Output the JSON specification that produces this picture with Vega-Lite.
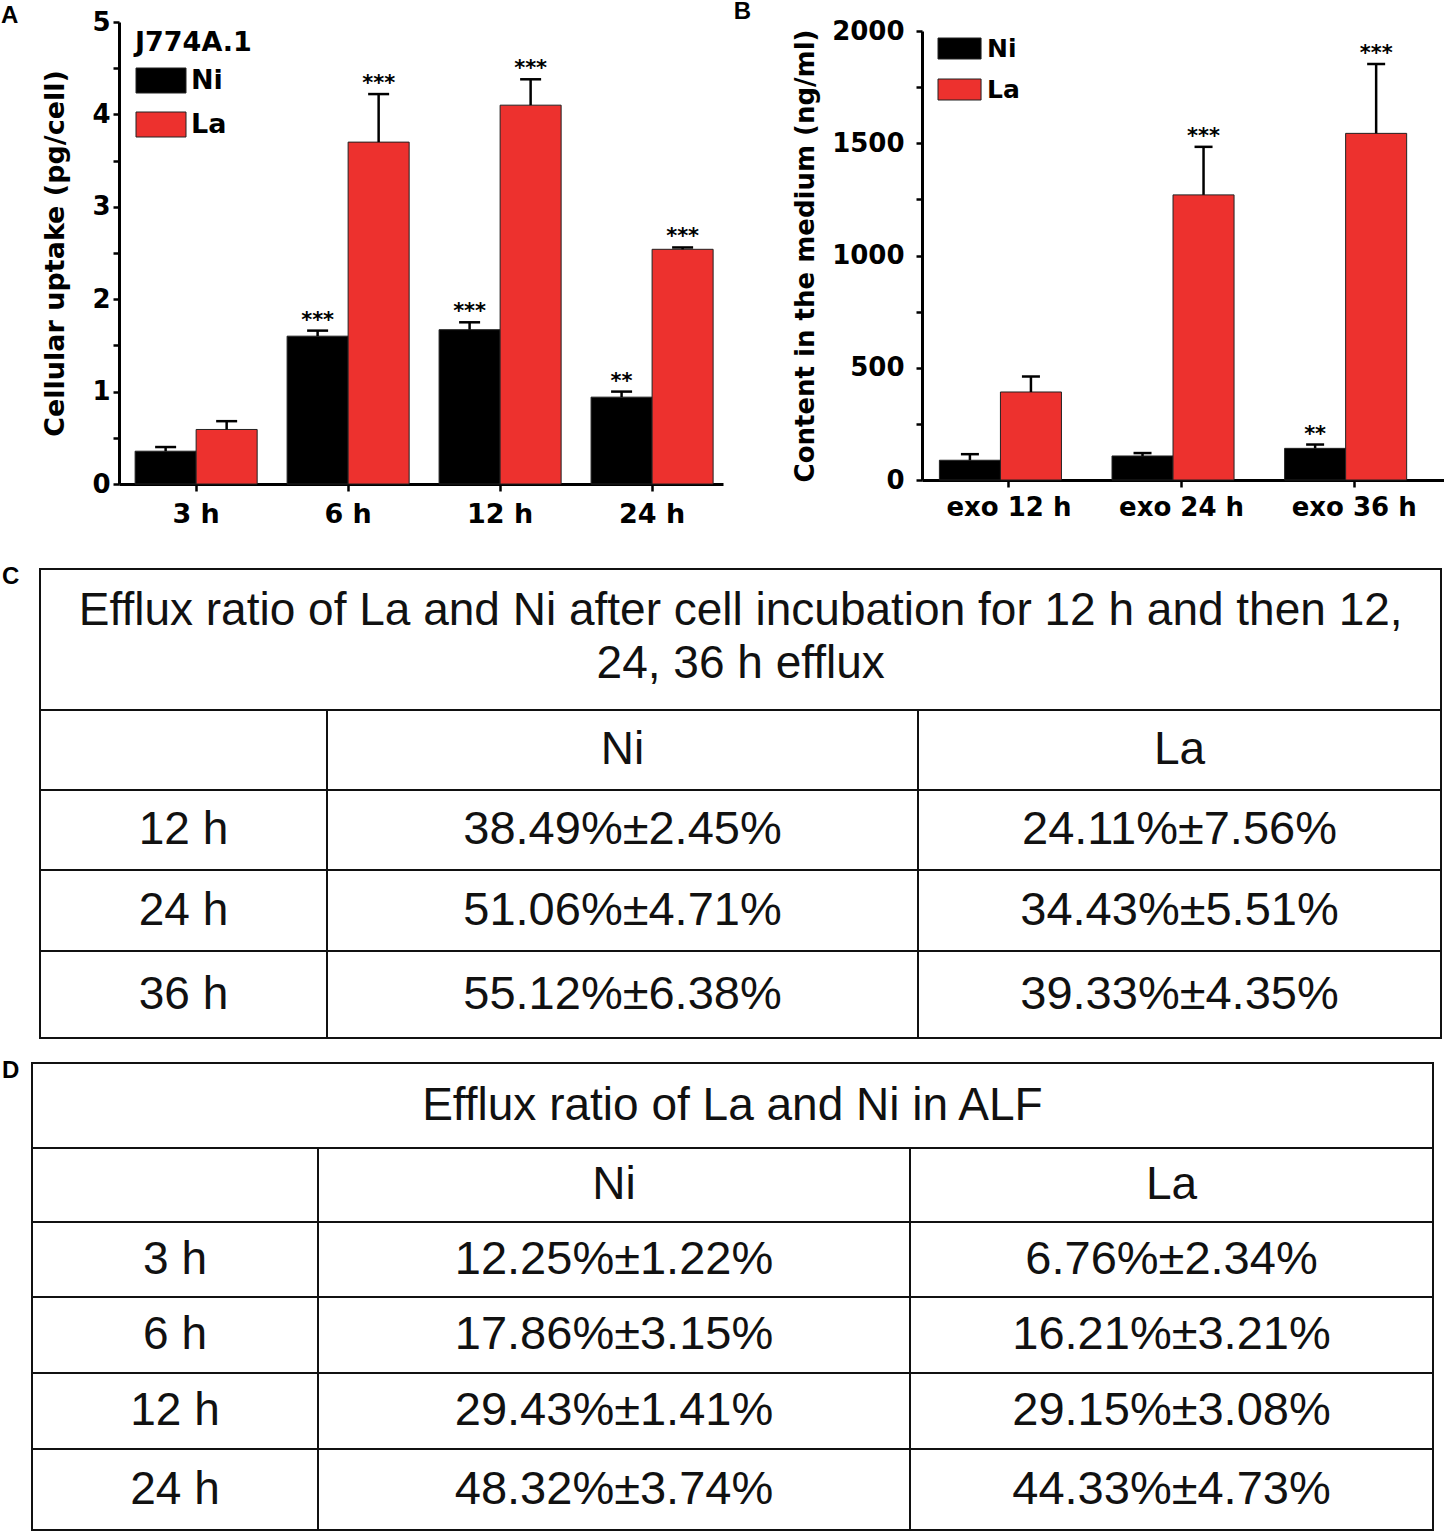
{
  "$schema": "https://vega.github.io/schema/vega-lite/v6.json",
  "background": "white",
  "padding": 0,
  "spacing": 18,
  "config": {
    "view": {"stroke": null},
    "axis": {
      "grid": false,
      "domainColor": "black",
      "domainWidth": 3,
      "tickColor": "black",
      "tickWidth": 2.5,
      "labelColor": "black",
      "titleColor": "black",
      "labelFont": "DejaVu Sans",
      "titleFont": "DejaVu Sans",
      "labelFontWeight": "bold",
      "titleFontWeight": "bold",
      "labelFlush": false,
      "labelOverlap": false
    }
  },
  "vconcat": [
    {
      "spacing": 10,
      "resolve": {"scale": {"color": "independent"}, "legend": {"color": "independent"}},
      "hconcat": [
        {
          "width": 604,
          "height": 462,
          "title": {"text": "A", "anchor": "start", "frame": "bounds", "font": "Liberation Sans", "fontSize": 24, "fontWeight": "bold", "color": "black", "offset": 0, "dx": -41, "dy": 19},
          "data": {"values": [
            {"time": "3 h", "metal": "Ni", "value": 0.355, "err": 0.40, "sig": ""},
            {"time": "3 h", "metal": "La", "value": 0.59, "err": 0.68, "sig": ""},
            {"time": "6 h", "metal": "Ni", "value": 1.60, "err": 1.66, "sig": "***"},
            {"time": "6 h", "metal": "La", "value": 3.70, "err": 4.22, "sig": "***"},
            {"time": "12 h", "metal": "Ni", "value": 1.67, "err": 1.75, "sig": "***"},
            {"time": "12 h", "metal": "La", "value": 4.10, "err": 4.38, "sig": "***"},
            {"time": "24 h", "metal": "Ni", "value": 0.94, "err": 1.00, "sig": "**"},
            {"time": "24 h", "metal": "La", "value": 2.54, "err": 2.56, "sig": "***"}
          ]},
          "encoding": {
            "x": {"field": "time", "type": "nominal", "sort": ["3 h", "6 h", "12 h", "24 h"],
                  "scale": {"paddingInner": 0.197, "paddingOuter": 0.0855, "align": 0.62},
                  "axis": {"title": null, "labelAngle": 0, "tickSize": 7, "labelPadding": 10, "labelFontSize": 27}},
            "xOffset": {"field": "metal", "sort": ["Ni", "La"], "scale": {"paddingInner": 0, "paddingOuter": 0}}
          },
          "layer": [
            {
              "mark": {"type": "bar", "stroke": "#222", "strokeWidth": 1},
              "encoding": {
                "y": {"field": "value", "type": "quantitative", "title": "Cellular uptake (pg/cell)",
                      "scale": {"domain": [0, 5], "nice": false},
                      "axis": {"values": [0, 0.5, 1, 1.5, 2, 2.5, 3, 3.5, 4, 4.5, 5],
                               "labelExpr": "datum.value % 1 === 0 ? format(datum.value, 'd') : ''",
                               "tickSize": 6, "labelPadding": 3, "labelFontSize": 26,
                               "titleFontSize": 27, "titlePadding": 22}},
                "color": {"field": "metal", "type": "nominal",
                          "scale": {"domain": ["Ni", "La"], "range": ["#000000", "#ed312e"]},
                          "legend": {"orient": "none", "legendX": 16, "legendY": 8, "title": "J774A.1",
                                     "titleFont": "DejaVu Sans", "titleFontSize": 27, "titleFontWeight": "bold", "titleColor": "black", "titlePadding": 10,
                                     "labelFont": "DejaVu Sans", "labelFontSize": 27, "labelFontWeight": "bold", "labelColor": "black", "labelOffset": 29,
                                     "symbolType": "M-1,-1H3V1H-1Z", "symbolSize": 625, "symbolStrokeColor": "#222", "symbolStrokeWidth": 1, "symbolOpacity": 1,
                                     "rowPadding": 15, "padding": 0}}
              }
            },
            {
              "mark": {"type": "rule", "color": "black", "strokeWidth": 2.5},
              "encoding": {
                "y": {"field": "value", "type": "quantitative", "title": "Cellular uptake (pg/cell)"},
                "y2": {"field": "err"}
              }
            },
            {
              "mark": {"type": "tick", "color": "black", "thickness": 2.5, "size": 21, "opacity": 1},
              "encoding": {"y": {"field": "err", "type": "quantitative", "title": "Cellular uptake (pg/cell)"}}
            },
            {
              "mark": {"type": "text", "font": "DejaVu Sans", "fontWeight": "bold", "fontSize": 21, "color": "black", "baseline": "alphabetic", "dy": -4},
              "encoding": {
                "y": {"field": "err", "type": "quantitative", "title": "Cellular uptake (pg/cell)"},
                "text": {"field": "sig"}
              }
            }
          ]
        },
        {
          "width": 523,
          "height": 458,
          "title": {"text": "B", "anchor": "start", "frame": "bounds", "font": "Liberation Sans", "fontSize": 24, "fontWeight": "bold", "color": "black", "offset": 0, "dx": -59, "dy": 6},
          "data": {"values": [
            {"time": "exo 12 h", "metal": "Ni", "value": 88, "err": 115, "sig": ""},
            {"time": "exo 12 h", "metal": "La", "value": 392, "err": 461, "sig": ""},
            {"time": "exo 24 h", "metal": "Ni", "value": 107, "err": 120, "sig": ""},
            {"time": "exo 24 h", "metal": "La", "value": 1270, "err": 1484, "sig": "***"},
            {"time": "exo 36 h", "metal": "Ni", "value": 141, "err": 158, "sig": "**"},
            {"time": "exo 36 h", "metal": "La", "value": 1544, "err": 1853, "sig": "***"}
          ]},
          "encoding": {
            "x": {"field": "time", "type": "nominal", "sort": ["exo 12 h", "exo 24 h", "exo 36 h"],
                  "scale": {"paddingInner": 0.194, "paddingOuter": 0.112, "align": 0.45},
                  "axis": {"title": null, "labelAngle": 0, "tickSize": 7, "labelPadding": 7, "labelFontSize": 26}},
            "xOffset": {"field": "metal", "sort": ["Ni", "La"], "scale": {"paddingInner": 0, "paddingOuter": 0}}
          },
          "layer": [
            {
              "mark": {"type": "bar", "stroke": "#222", "strokeWidth": 1},
              "encoding": {
                "y": {"field": "value", "type": "quantitative", "title": "Content in the medium (ng/ml)",
                      "scale": {"domain": [0, 2000], "range": [458, 9], "nice": false},
                      "axis": {"values": [0, 125, 250, 375, 500, 625, 750, 875, 1000, 1125, 1250, 1375, 1500, 1625, 1750, 1875, 2000],
                               "labelExpr": "datum.value % 500 === 0 ? format(datum.value, 'd') : ''",
                               "tickSize": 6, "labelPadding": 12, "labelFontSize": 26,
                               "titleFontSize": 26, "titlePadding": 13}},
                "color": {"field": "metal", "type": "nominal",
                          "scale": {"domain": ["Ni", "La"], "range": ["#000000", "#ed312e"]},
                          "legend": {"orient": "none", "legendX": 14, "legendY": 14, "title": null,
                                     "labelFont": "DejaVu Sans", "labelFontSize": 25, "labelFontWeight": "bold", "labelColor": "black", "labelOffset": 26,
                                     "symbolType": "M-1,-1H3.1V1H-1Z", "symbolSize": 441, "symbolStrokeColor": "#222", "symbolStrokeWidth": 1, "symbolOpacity": 1,
                                     "rowPadding": 15, "padding": 0}}
              }
            },
            {
              "mark": {"type": "rule", "color": "black", "strokeWidth": 2.5},
              "encoding": {
                "y": {"field": "value", "type": "quantitative", "title": "Content in the medium (ng/ml)"},
                "y2": {"field": "err"}
              }
            },
            {
              "mark": {"type": "tick", "color": "black", "thickness": 2.5, "size": 18, "opacity": 1},
              "encoding": {"y": {"field": "err", "type": "quantitative", "title": "Content in the medium (ng/ml)"}}
            },
            {
              "mark": {"type": "text", "font": "DejaVu Sans", "fontWeight": "bold", "fontSize": 21, "color": "black", "baseline": "alphabetic", "dy": -4},
              "encoding": {
                "y": {"field": "err", "type": "quantitative", "title": "Content in the medium (ng/ml)"},
                "text": {"field": "sig"}
              }
            }
          ]
        }
      ]
    },
    {
      "spacing": 0,
      "vconcat": [
        {
          "width": 1325,
          "height": 505,
          "encoding": {
            "x": {"field": "c", "type": "quantitative", "axis": null,
                  "scale": {"domain": [-1, 0, 1, 2, 3], "range": [-117, -79, 208, 799, 1322], "nice": false, "zero": false}},
            "y": {"field": "r", "type": "quantitative", "axis": null,
                  "scale": {"domain": [0, 1, 2, 3, 4, 5], "range": [24, 165, 245, 325, 406, 493], "nice": false, "zero": false}}
          },
          "layer": [
            {
              "data": {"values": [
                {"c": 0, "c2": 3, "r": 0, "r2": 0},
                {"c": 0, "c2": 3, "r": 1, "r2": 1},
                {"c": 0, "c2": 3, "r": 2, "r2": 2},
                {"c": 0, "c2": 3, "r": 3, "r2": 3},
                {"c": 0, "c2": 3, "r": 4, "r2": 4},
                {"c": 0, "c2": 3, "r": 5, "r2": 5},
                {"c": 0, "c2": 0, "r": 0, "r2": 5},
                {"c": 3, "c2": 3, "r": 0, "r2": 5},
                {"c": 1, "c2": 1, "r": 1, "r2": 5},
                {"c": 2, "c2": 2, "r": 1, "r2": 5}
              ]},
              "mark": {"type": "rule", "color": "#111", "strokeWidth": 2, "strokeCap": "square"},
              "encoding": {"x2": {"field": "c2"}, "y2": {"field": "r2"}}
            },
            {
              "data": {"values": [
                {"c": 1.7, "r": 0.5, "t": "Efflux ratio of La and Ni after cell incubation for 12 h and then 12,\n24, 36 h efflux"}
              ]},
              "mark": {"type": "text", "font": "Liberation Sans", "fontSize": 46, "color": "#111", "align": "center", "baseline": "middle", "lineBreak": "\n", "lineHeight": 53, "dy": -29},
              "encoding": {"text": {"field": "t"}}
            },
            {
              "data": {"values": [
                {"c": 1.5, "r": 1.5, "t": "Ni"},
                {"c": 2.5, "r": 1.5, "t": "La"},
                {"c": 0.5, "r": 2.5, "t": "12 h"},
                {"c": 0.5, "r": 3.5, "t": "24 h"},
                {"c": 0.5, "r": 4.5, "t": "36 h"}
              ]},
              "mark": {"type": "text", "font": "Liberation Sans", "fontSize": 46, "color": "#111", "align": "center", "baseline": "middle"},
              "encoding": {"text": {"field": "t"}}
            },
            {
              "data": {"values": [
                {"c": 1.5, "r": 2.5, "t": "38.49%±2.45%"},
                {"c": 2.5, "r": 2.5, "t": "24.11%±7.56%"},
                {"c": 1.5, "r": 3.5, "t": "51.06%±4.71%"},
                {"c": 2.5, "r": 3.5, "t": "34.43%±5.51%"},
                {"c": 1.5, "r": 4.5, "t": "55.12%±6.38%"},
                {"c": 2.5, "r": 4.5, "t": "39.33%±4.35%"}
              ]},
              "mark": {"type": "text", "font": "Liberation Sans", "fontSize": 47, "color": "#111", "align": "center", "baseline": "middle"},
              "encoding": {"text": {"field": "t"}}
            },
            {
              "data": {"values": [{"c": -1, "r": 0, "t": "C"}]},
              "mark": {"type": "text", "font": "Liberation Sans", "fontSize": 24, "fontWeight": "bold", "color": "black", "align": "left", "baseline": "top", "dy": -4},
              "encoding": {"text": {"field": "t"}}
            }
          ]
        },
        {
          "width": 1325,
          "height": 484,
          "encoding": {
            "x": {"field": "c", "type": "quantitative", "axis": null,
                  "scale": {"domain": [-1, 0, 1, 2, 3], "range": [-117, -87, 199, 791, 1314], "nice": false, "zero": false}},
            "y": {"field": "r", "type": "quantitative", "axis": null,
                  "scale": {"domain": [0, 1, 2, 3, 4, 5, 6], "range": [13, 98, 172, 247, 323, 399, 480], "nice": false, "zero": false}}
          },
          "layer": [
            {
              "data": {"values": [
                {"c": 0, "c2": 3, "r": 0, "r2": 0},
                {"c": 0, "c2": 3, "r": 1, "r2": 1},
                {"c": 0, "c2": 3, "r": 2, "r2": 2},
                {"c": 0, "c2": 3, "r": 3, "r2": 3},
                {"c": 0, "c2": 3, "r": 4, "r2": 4},
                {"c": 0, "c2": 3, "r": 5, "r2": 5},
                {"c": 0, "c2": 3, "r": 6, "r2": 6},
                {"c": 0, "c2": 0, "r": 0, "r2": 6},
                {"c": 3, "c2": 3, "r": 0, "r2": 6},
                {"c": 1, "c2": 1, "r": 1, "r2": 6},
                {"c": 2, "c2": 2, "r": 1, "r2": 6}
              ]},
              "mark": {"type": "rule", "color": "#111", "strokeWidth": 2, "strokeCap": "square"},
              "encoding": {"x2": {"field": "c2"}, "y2": {"field": "r2"}}
            },
            {
              "data": {"values": [
                {"c": 1.7, "r": 0.5, "t": "Efflux ratio of La and Ni in ALF"},
                {"c": 1.5, "r": 1.5, "t": "Ni"},
                {"c": 2.5, "r": 1.5, "t": "La"},
                {"c": 0.5, "r": 2.5, "t": "3 h"},
                {"c": 0.5, "r": 3.5, "t": "6 h"},
                {"c": 0.5, "r": 4.5, "t": "12 h"},
                {"c": 0.5, "r": 5.5, "t": "24 h"}
              ]},
              "mark": {"type": "text", "font": "Liberation Sans", "fontSize": 46, "color": "#111", "align": "center", "baseline": "middle"},
              "encoding": {"text": {"field": "t"}}
            },
            {
              "data": {"values": [
                {"c": 1.5, "r": 2.5, "t": "12.25%±1.22%"},
                {"c": 2.5, "r": 2.5, "t": "6.76%±2.34%"},
                {"c": 1.5, "r": 3.5, "t": "17.86%±3.15%"},
                {"c": 2.5, "r": 3.5, "t": "16.21%±3.21%"},
                {"c": 1.5, "r": 4.5, "t": "29.43%±1.41%"},
                {"c": 2.5, "r": 4.5, "t": "29.15%±3.08%"},
                {"c": 1.5, "r": 5.5, "t": "48.32%±3.74%"},
                {"c": 2.5, "r": 5.5, "t": "44.33%±4.73%"}
              ]},
              "mark": {"type": "text", "font": "Liberation Sans", "fontSize": 47, "color": "#111", "align": "center", "baseline": "middle"},
              "encoding": {"text": {"field": "t"}}
            },
            {
              "data": {"values": [{"c": -1, "r": 0, "t": "D"}]},
              "mark": {"type": "text", "font": "Liberation Sans", "fontSize": 24, "fontWeight": "bold", "color": "black", "align": "left", "baseline": "top", "dy": -4},
              "encoding": {"text": {"field": "t"}}
            }
          ]
        }
      ]
    }
  ]
}
